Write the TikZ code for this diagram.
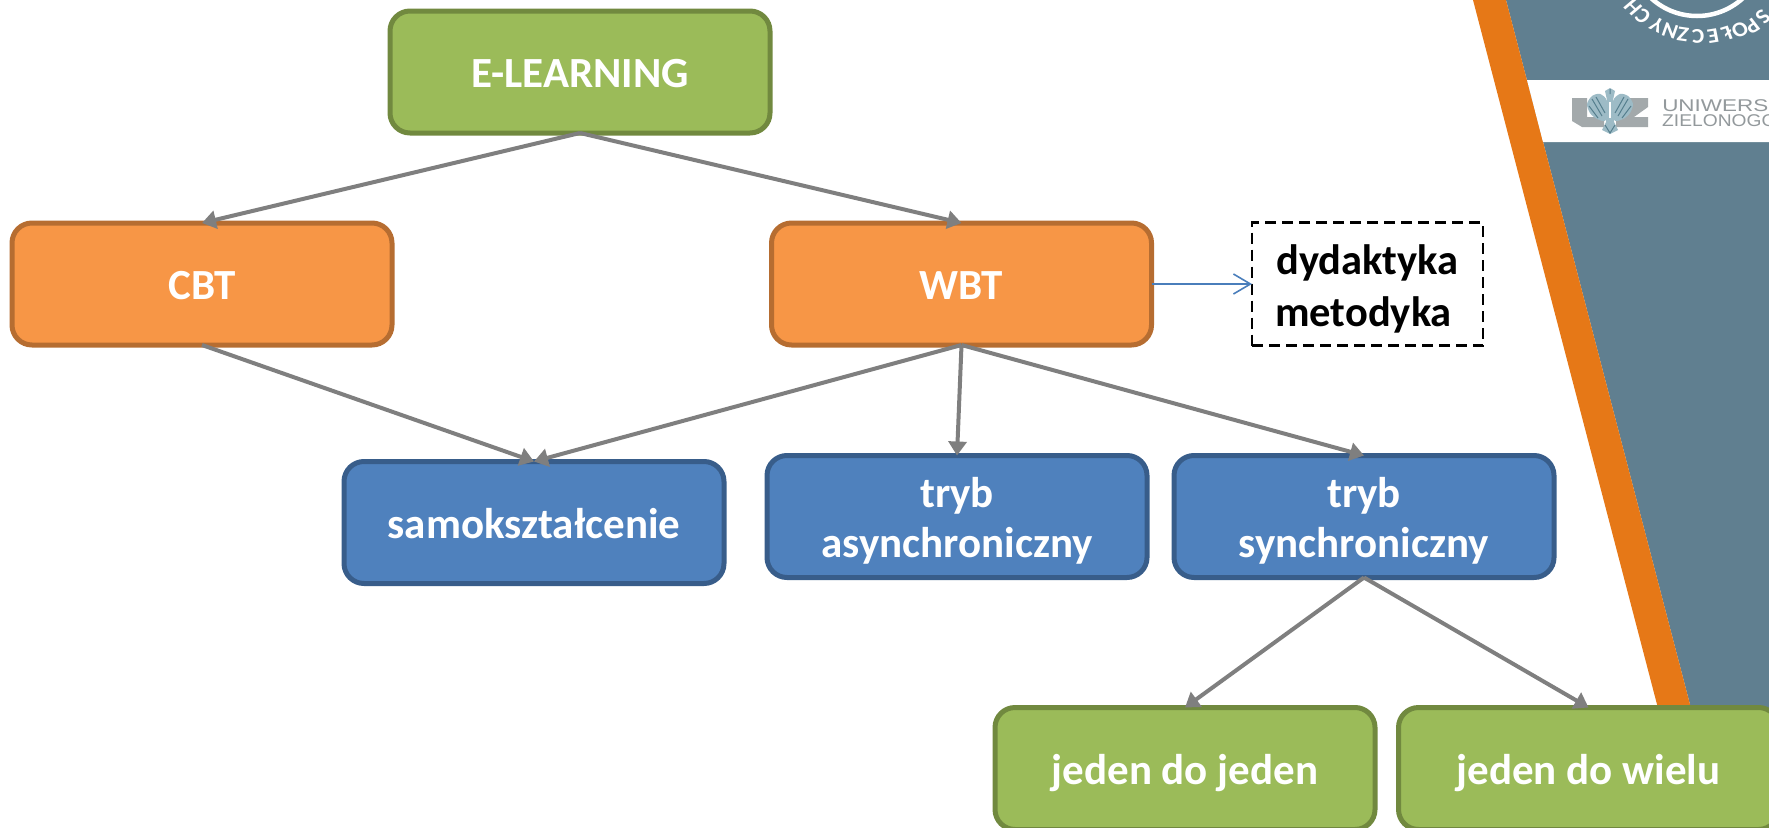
\documentclass[tikz,border=0pt]{standalone}
\usepackage{fontspec}
\setmainfont{Carlito}
\newfontfamily\logofont{Liberation Sans}
\usetikzlibrary{arrows.meta}
\definecolor{slate}{HTML}{607F90}
\definecolor{band}{HTML}{E67817}
\definecolor{conn}{HTML}{7F7F7F}
\definecolor{linkblue}{HTML}{4A7EBB}
\definecolor{logogrey}{HTML}{A3A9AB}
\definecolor{logotext}{HTML}{93999C}
\definecolor{eagle}{HTML}{9DBBC6}
\definecolor{eagledark}{HTML}{567F8E}
\newcommand{\onelineheight}{\rule[-10pt]{0pt}{51pt}}
\newcommand{\firstline}{\rule{0pt}{42pt}}
\newcommand{\lastline}{\rule[-10pt]{0pt}{10pt}}
\tikzset{
  box/.style={draw,rounded corners=20pt,line width=5pt,minimum width=380pt,minimum height=122pt,
    outer sep=0pt,inner sep=0pt,text=white,font=\fontsize{43}{50}\selectfont\bfseries,align=center},
  greenbox/.style={box,fill={rgb,255:red,155;green,187;blue,89},draw={rgb,255:red,113;green,137;blue,63}},
  orangebox/.style={box,fill={rgb,255:red,247;green,150;blue,70},draw={rgb,255:red,182;green,109;blue,49}},
  bluebox/.style={box,fill={rgb,255:red,79;green,129;blue,189},draw={rgb,255:red,56;green,93;blue,138}},
  dashbox/.style={draw=black,dash pattern=on 11pt off 6pt,line width=2.2pt,minimum width=231pt,minimum height=123pt,
    outer sep=0pt,inner sep=0pt,text=black,font=\fontsize{42.5}{52}\selectfont\bfseries,align=center},
  conn/.style={draw=conn,line width=4pt,-{Triangle[length=14pt,width=18pt]}},
  link/.style={draw=linkblue,line width=1.6pt,-{Straight Barb[length=17pt,width=20pt,line width=1.6pt]}},
  sealletter/.style={text=white,font=\fontsize{21}{21}\selectfont\bfseries,inner sep=0pt,xscale=1.1},
  logoline/.style={text=logotext,font=\logofont\fontsize{17}{17}\selectfont,inner sep=0pt,anchor=base west}
}
\begin{document}
\begin{tikzpicture}[x=1pt,y=-1pt]
\useasboundingbox (0,0) rectangle (1769,827);
\clip (0,0) rectangle (1769,827);
% slide background
\fill[slate] (1506,0) -- (1769,0) -- (1769,827) -- (1722,827) -- cycle;
\fill[band] (1473,0) -- (1506,0) -- (1722,827) -- (1689,827) -- cycle;
\fill[white] (1527,80) -- (1769,80) -- (1769,142) -- (1543,142) -- cycle;
% seal
\draw[white,line width=4.5pt] (1697,-52) circle (68);
\foreach \ch/\ang/\px/\py [count=\i] in {S/44/1763/17,P/35/1752/26,O/28/1740/30,Ł/19/1727/33,E/10/1713/36,C/1/1698/36,Z/-9/1683/34,N/-18/1670/31,Y/-28/1657/25,C/-38/1643/16,H/-47/1633/7}
  \node[sealletter,rotate=180+\ang] (seal\i) at (\px,\py) {\ch};
% UZ logo
\fill[logogrey] (1572,98) -- (1587,98) -- (1587,117) -- (1604,117) -- (1604,127) -- (1582,127) -- (1572,121) -- cycle;
\fill[logogrey] (1616,98) -- (1648,98) -- (1648,107) -- (1634,117) -- (1648,117) -- (1648,127) -- (1616,127) -- (1616,118) -- (1630,107) -- (1616,107) -- cycle;
\fill[eagle] plot[smooth cycle] coordinates {(1607,101) (1600,94) (1592,96) (1587,104) (1590,113) (1597,119) (1606,120)};
\fill[eagle] plot[smooth cycle] coordinates {(1613,101) (1620,94) (1628,96) (1633,104) (1630,113) (1623,119) (1614,120)};
\fill[eagle] (1610,88) -- (1615,91) -- (1613,100) -- (1614,122) -- (1618,130) -- (1610,134) -- (1602,130) -- (1606,122) -- (1607,100) -- (1605,91) -- cycle;
\draw[eagledark,line width=1pt] (1592,99) -- (1602,116) (1596,97) -- (1605,113) (1589,106) -- (1598,118) (1628,99) -- (1618,116) (1624,97) -- (1615,113) (1631,106) -- (1622,118) (1610,89) -- (1610,94) (1605,125) -- (1610,133) -- (1615,125);
\fill[white] (1609,102) rectangle (1611,118);
\node[logoline,xscale=1.32] (logoa) at (1662,111) {UNIWERS};
\node[logoline,xscale=1.13] (logob) at (1662,126) {ZIELONOGO};
% boxes
\node[greenbox]  (el)   at (580,72)    {\onelineheight E-LEARNING};
\node[orangebox] (cbt)  at (202,284)   {\onelineheight CBT};
\node[orangebox] (wbt)  at (961.5,284) {\onelineheight WBT};
\node[dashbox]   (dyd)  at (1367.5,284) {\firstline dydaktyka\\metodyka\hspace{8pt}\lastline};
\node[bluebox]   (samo) at (534,522.5) {\onelineheight samokształcenie};
\node[bluebox]   (asyn) at (957,516.5) {\firstline tryb\\asynchroniczny\lastline};
\node[bluebox]   (syn)  at (1364,516.5) {\firstline tryb\\synchroniczny\lastline};
\node[greenbox]  (jj)   at (1185,768.5) {\onelineheight jeden do jeden};
\node[greenbox]  (jw)   at (1588.5,768.5) {\onelineheight jeden do wielu};
% connectors
\draw[conn] (el.south) -- (cbt.north);
\draw[conn] (el.south) -- (wbt.north);
\draw[conn] (cbt.south) -- (samo.north);
\draw[conn] (wbt.south) -- (samo.north);
\draw[conn] (wbt.south) -- (asyn.north);
\draw[conn] (wbt.south) -- (syn.north);
\draw[conn] (syn.south) -- (jj.north);
\draw[conn] (syn.south) -- (jw.north);
\draw[link] (wbt.east) -- (dyd.west);
\end{tikzpicture}
\end{document}
